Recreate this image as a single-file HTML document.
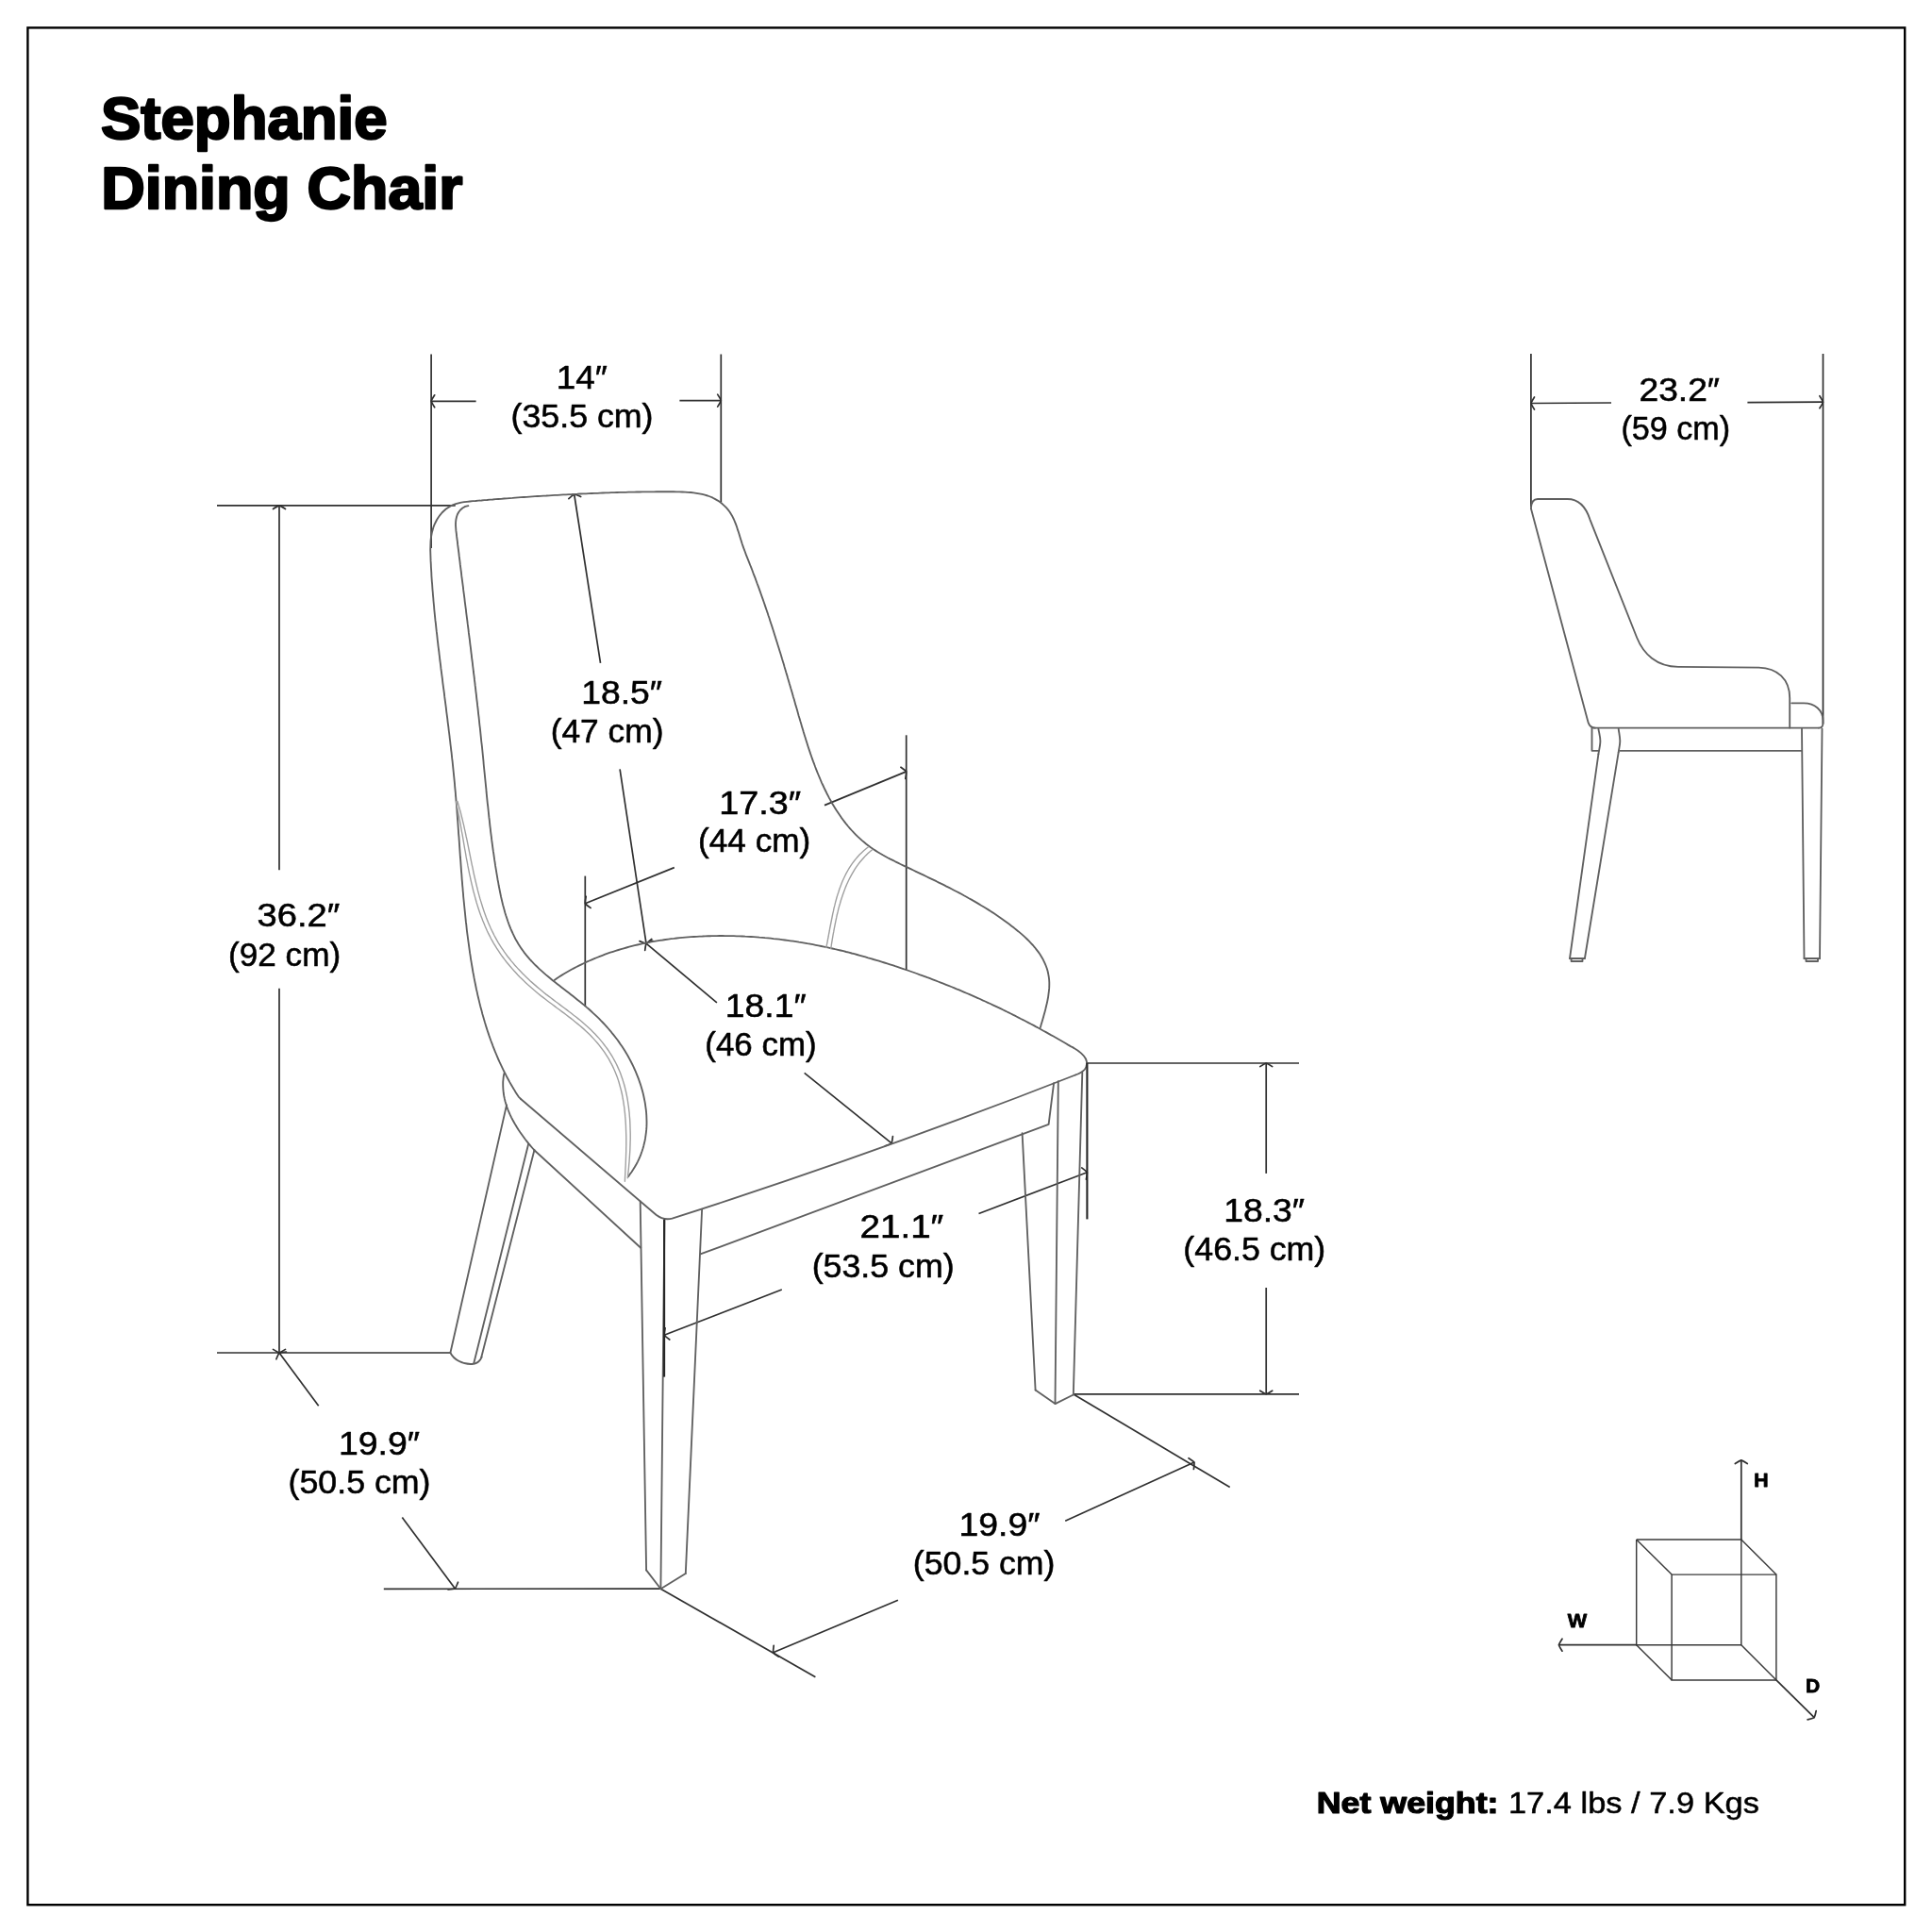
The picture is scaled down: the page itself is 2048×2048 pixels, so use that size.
<!DOCTYPE html>
<html><head><meta charset="utf-8"><style>
html,body{margin:0;padding:0;background:#fff;}
body{width:2048px;height:2048px;overflow:hidden;}
svg{display:block;will-change:transform;}
.c{fill:none;stroke:#606060;stroke-width:1.85;stroke-linecap:round;stroke-linejoin:round;}
.p{fill:none;stroke:#a0a0a0;stroke-width:1.4;stroke-linecap:round;}
.d{fill:none;stroke:#303030;stroke-width:1.7;stroke-linecap:butt;}
.q{fill:none;stroke:#3a3a3a;stroke-width:1.45;stroke-linecap:butt;}
.k{fill:none;stroke:#262626;stroke-width:2.1;stroke-linecap:butt;}
.ah{stroke-linecap:round;stroke-linejoin:round;}
text{font-family:"Liberation Sans",sans-serif;fill:#000;}
.b{font-weight:bold;}
</style></head><body>
<svg width="2048" height="2048" viewBox="0 0 2048 2048">
<rect x="29.4" y="29.4" width="1989.8" height="1989.8" fill="none" stroke="#000" stroke-width="2.4"/>
<line class="d" x1="457.1" y1="375.5" x2="457.1" y2="580.9"/>
<line class="d" x1="764.3" y1="375.5" x2="764.3" y2="532.3"/>
<line class="d" x1="457.1" y1="425.3" x2="504.6" y2="425.3"/>
<path class="d ah" d="M460.7,418.8 Q457.8,423.4 457.1,425.3 Q457.8,427.2 460.7,431.8"/>
<line class="d" x1="720.4" y1="424.6" x2="764.3" y2="424.6"/>
<path class="d ah" d="M760.7,431.1 Q763.6,426.6 764.3,424.6 Q763.6,422.7 760.7,418.1"/>
<line class="d" x1="230.0" y1="535.9" x2="482.7" y2="535.9"/>
<line class="d" x1="230.0" y1="1434.0" x2="477.4" y2="1434.0"/>
<line class="d" x1="296.0" y1="535.9" x2="296.0" y2="922.2"/>
<path class="d ah" d="M302.5,539.5 Q297.9,536.6 296.0,535.9 Q294.1,536.6 289.5,539.5"/>
<line class="d" x1="296.0" y1="1047.8" x2="296.0" y2="1434.0"/>
<path class="d ah" d="M289.5,1430.4 Q294.1,1433.3 296.0,1434.0 Q297.9,1433.3 302.5,1430.4"/>
<line class="d" x1="608.7" y1="524.0" x2="636.5" y2="702.9"/>
<path class="d ah" d="M615.7,526.5 Q610.7,524.4 608.7,524.0 Q606.9,525.0 602.9,528.6"/>
<line class="d" x1="657.1" y1="815.3" x2="685.0" y2="1000.1"/>
<path class="d ah" d="M678.0,997.6 Q683.0,999.7 685.0,1000.1 Q686.8,999.1 690.8,995.5"/>
<line class="d" x1="960.7" y1="779.3" x2="960.7" y2="1028.5"/>
<line class="d" x1="620.3" y1="928.6" x2="620.3" y2="1067.0"/>
<line class="d" x1="874.0" y1="853.6" x2="960.7" y2="817.9"/>
<path class="d ah" d="M959.8,825.3 Q960.8,820.0 960.7,817.9 Q959.3,816.4 954.9,813.3"/>
<line class="d" x1="620.3" y1="957.8" x2="714.8" y2="919.6"/>
<path class="d ah" d="M621.2,950.4 Q620.2,955.7 620.3,957.8 Q621.7,959.3 626.1,962.4"/>
<line class="d" x1="685.0" y1="1000.1" x2="759.9" y2="1062.8"/>
<path class="d ah" d="M691.9,997.3 Q686.8,999.0 685.0,1000.1 Q684.3,1002.1 683.7,1007.4"/>
<line class="d" x1="852.7" y1="1137.4" x2="945.1" y2="1211.9"/>
<path class="d ah" d="M938.2,1214.7 Q943.3,1213.0 945.1,1211.9 Q945.8,1209.9 946.4,1204.6"/>
<line class="d" x1="1037.5" y1="1286.5" x2="1152.4" y2="1242.7"/>
<path class="d ah" d="M1151.4,1250.1 Q1152.4,1244.8 1152.4,1242.7 Q1151.0,1241.1 1146.7,1237.9"/>
<line class="d" x1="704.1" y1="1415.2" x2="828.8" y2="1367.0"/>
<path class="d ah" d="M705.1,1407.8 Q704.1,1413.1 704.1,1415.2 Q705.5,1416.8 709.8,1420.0"/>
<line class="d" x1="1152.4" y1="1127.0" x2="1377.0" y2="1127.0"/>
<line class="d" x1="1138.3" y1="1477.8" x2="1377.0" y2="1477.8"/>
<line class="d" x1="1342.2" y1="1127.0" x2="1342.2" y2="1243.9"/>
<path class="d ah" d="M1348.7,1130.6 Q1344.2,1127.7 1342.2,1127.0 Q1340.2,1127.7 1335.7,1130.6"/>
<line class="d" x1="1342.2" y1="1365.0" x2="1342.2" y2="1477.8"/>
<path class="d ah" d="M1335.7,1474.2 Q1340.2,1477.1 1342.2,1477.8 Q1344.2,1477.1 1348.7,1474.2"/>
<line class="d" x1="1138.8" y1="1478.5" x2="1303.7" y2="1576.5"/>
<line class="d" x1="700.4" y1="1684.2" x2="864.4" y2="1777.7"/>
<line class="d" x1="1129.2" y1="1612.3" x2="1266.0" y2="1550.1"/>
<path class="d ah" d="M1265.4,1557.5 Q1266.1,1552.2 1266.0,1550.1 Q1264.5,1548.6 1260.0,1545.7"/>
<line class="d" x1="819.6" y1="1751.8" x2="951.9" y2="1696.2"/>
<path class="d ah" d="M820.2,1744.4 Q819.5,1749.7 819.6,1751.8 Q821.1,1753.3 825.6,1756.2"/>
<line class="d" x1="406.8" y1="1684.3" x2="700.4" y2="1684.2"/>
<line class="d" x1="296.0" y1="1434.0" x2="337.7" y2="1490.3"/>
<path class="d ah" d="M303.4,1433.0 Q298.0,1433.4 296.0,1434.0 Q294.9,1435.7 292.9,1440.8"/>
<line class="d" x1="426.3" y1="1608.4" x2="482.4" y2="1684.0"/>
<path class="d ah" d="M475.0,1685.0 Q480.4,1684.6 482.4,1684.0 Q483.5,1682.3 485.5,1677.2"/>
<path class="c" d="M551.8,1164.7 L549.7,1162.6 L548.0,1160.0 L546.4,1157.5 L544.9,1154.9 L543.3,1152.3 L541.8,1149.7 L540.3,1147.1 L538.9,1144.5 L537.4,1141.8 L536.1,1139.2 L534.7,1136.5 L533.4,1133.8 L532.1,1131.1 L530.8,1128.4 L529.5,1125.7 L528.3,1123.0 L527.1,1120.2 L526.0,1117.5 L524.8,1114.7 L523.7,1111.9 L522.6,1109.1 L521.6,1106.3 L520.5,1103.5 L519.5,1100.7 L518.5,1097.9 L517.6,1095.1 L516.6,1092.2 L515.7,1089.4 L514.8,1086.5 L513.9,1083.6 L513.1,1080.8 L512.3,1077.9 L511.4,1075.0 L510.7,1072.1 L509.9,1069.2 L509.1,1066.3 L508.4,1063.4 L507.7,1060.4 L507.0,1057.5 L506.3,1054.6 L505.7,1051.6 L505.0,1048.7 L504.4,1045.8 L503.8,1042.8 L503.2,1039.9 L502.6,1036.9 L502.1,1033.9 L501.5,1031.0 L501.0,1028.0 L500.5,1025.0 L500.0,1022.1 L499.5,1019.1 L499.0,1016.1 L498.6,1013.1 L498.1,1010.2 L497.7,1007.2 L497.3,1004.2 L496.9,1001.2 L496.5,998.3 L496.1,995.3 L495.7,992.3 L495.3,989.3 L494.9,986.3 L494.6,983.3 L494.3,980.4 L493.9,977.4 L493.6,974.4 L493.3,971.4 L493.0,968.4 L492.7,965.4 L492.4,962.5 L492.1,959.5 L491.8,956.5 L491.5,953.5 L491.2,950.5 L491.0,947.5 L490.7,944.5 L490.5,941.5 L490.2,938.6 L490.0,935.6 L489.7,932.6 L489.5,929.6 L489.3,926.6 L489.0,923.6 L488.8,920.6 L488.6,917.6 L488.4,914.6 L488.2,911.6 L487.9,908.7 L487.7,905.7 L487.5,902.7 L487.3,899.7 L487.1,896.7 L486.9,893.7 L486.7,890.7 L486.5,887.7 L486.2,884.7 L486.0,881.7 L485.8,878.7 L485.6,875.7 L485.4,872.7 L485.2,869.8 L484.9,866.8 L484.7,863.8 L484.5,860.8 L484.3,857.8 L484.0,854.8 L483.8,851.8 L483.5,848.8 L483.3,845.8 L483.0,842.8 L482.8,839.8 L482.5,836.8 L482.2,833.8 L482.0,830.8 L481.7,827.9 L481.4,824.9 L481.1,821.9 L480.8,818.9 L480.5,815.9 L480.2,812.9 L479.9,809.9 L479.6,806.9 L479.2,803.9 L478.9,800.9 L478.6,797.9 L478.2,795.0 L477.9,792.0 L477.5,789.0 L477.2,786.0 L476.8,783.0 L476.5,780.0 L476.1,777.0 L475.7,774.0 L475.4,771.0 L475.0,768.1 L474.6,765.1 L474.3,762.1 L473.9,759.1 L473.5,756.1 L473.1,753.1 L472.8,750.1 L472.4,747.2 L472.0,744.2 L471.6,741.2 L471.2,738.2 L470.9,735.2 L470.5,732.2 L470.1,729.3 L469.7,726.3 L469.3,723.3 L469.0,720.3 L468.6,717.3 L468.2,714.4 L467.8,711.4 L467.4,708.4 L467.1,705.4 L466.7,702.4 L466.3,699.5 L466.0,696.5 L465.6,693.5 L465.3,690.5 L464.9,687.6 L464.5,684.6 L464.2,681.6 L463.8,678.6 L463.5,675.7 L463.2,672.7 L462.8,669.7 L462.5,666.8 L462.2,663.8 L461.9,660.8 L461.5,657.9 L461.2,654.9 L460.9,651.9 L460.6,648.9 L460.3,646.0 L460.1,643.0 L459.8,640.0 L459.5,637.0 L459.3,634.1 L459.0,631.1 L458.8,628.1 L458.5,625.1 L458.3,622.1 L458.1,619.1 L457.8,616.1 L457.6,613.1 L457.4,610.1 L457.3,607.1 L457.1,604.0 L456.9,601.0 L456.8,598.0 L456.6,594.9 L456.5,591.9 L456.4,588.8 L456.3,585.8 L456.2,582.7 L456.3,579.7 L456.4,576.7 L456.5,573.7 L456.8,570.7 L457.3,567.7 L457.8,564.8 L458.6,561.9 L459.4,559.0 L460.5,556.2 L461.8,553.5 L463.2,550.8 L464.8,548.2 L466.6,545.8 L468.5,543.5 L470.6,541.5 L472.8,539.5 L475.2,537.9 L477.7,536.4 L480.4,535.2 L483.2,534.2 L486.0,533.4 L489.0,532.7 L492.0,532.2 L495.0,531.8 L498.1,531.5 L501.1,531.2 L504.2,531.0 L507.2,530.7 L510.3,530.5 L513.3,530.2 L516.3,530.0 L519.3,529.7 L522.3,529.5 L525.3,529.2 L528.3,529.0 L531.3,528.8 L534.2,528.5 L537.2,528.3 L540.2,528.1 L543.2,527.9 L546.1,527.6 L549.1,527.4 L552.1,527.2 L555.1,527.0 L558.1,526.8 L561.1,526.6 L564.1,526.4 L567.1,526.2 L570.0,526.0 L573.0,525.8 L576.0,525.6 L579.0,525.5 L582.0,525.3 L585.0,525.1 L588.0,524.9 L591.0,524.8 L594.0,524.6 L597.0,524.4 L600.0,524.3 L603.0,524.1 L606.0,524.0 L609.1,523.8 L612.1,523.7 L615.1,523.5 L618.1,523.4 L621.1,523.3 L624.1,523.1 L627.1,523.0 L630.1,522.9 L633.1,522.8 L636.1,522.6 L639.1,522.5 L642.1,522.4 L645.1,522.3 L648.1,522.2 L651.1,522.1 L654.1,522.0 L657.1,521.9 L660.1,521.9 L663.2,521.8 L666.2,521.7 L669.2,521.6 L672.2,521.6 L675.1,521.5 L678.1,521.5 L681.1,521.4 L684.1,521.4 L687.1,521.3 L690.1,521.3 L693.1,521.3 L696.1,521.2 L699.1,521.2 L702.1,521.2 L705.0,521.2 L708.0,521.2 L711.0,521.2 L714.0,521.2 L717.0,521.3 L720.1,521.4 L723.1,521.5 L726.2,521.6 L729.2,521.8 L732.3,522.0 L735.3,522.4 L738.3,522.8 L741.3,523.3 L744.3,523.9 L747.2,524.6 L750.1,525.5 L752.9,526.5 L755.6,527.7 L758.2,529.1 L760.8,530.6 L763.3,532.3 L765.6,534.1 L767.8,536.1 L769.9,538.2 L771.8,540.4 L773.6,542.8 L775.1,545.3 L776.6,547.8 L777.9,550.5 L779.1,553.3 L780.2,556.1 L781.2,559.0 L782.1,561.9 L783.1,564.8 L784.0,567.7 L784.9,570.7 L785.8,573.6 L786.7,576.5 L787.7,579.4 L788.7,582.2 L789.8,585.0 L790.8,587.9 L791.9,590.6 L793.0,593.4 L794.1,596.2 L795.2,599.0 L796.3,601.7 L797.4,604.5 L798.4,607.3 L799.5,610.1 L800.6,612.9 L801.6,615.7 L802.6,618.5 L803.7,621.3 L804.7,624.1 L805.7,626.9 L806.7,629.8 L807.7,632.6 L808.7,635.4 L809.7,638.2 L810.7,641.1 L811.6,643.9 L812.6,646.8 L813.6,649.6 L814.5,652.5 L815.5,655.3 L816.4,658.2 L817.3,661.0 L818.3,663.9 L819.2,666.7 L820.1,669.6 L821.0,672.5 L821.9,675.3 L822.8,678.2 L823.7,681.1 L824.6,684.0 L825.5,686.8 L826.4,689.7 L827.3,692.6 L828.2,695.5 L829.0,698.3 L829.9,701.2 L830.8,704.1 L831.6,707.0 L832.5,709.9 L833.3,712.8 L834.2,715.6 L835.0,718.5 L835.9,721.4 L836.7,724.3 L837.6,727.2 L838.4,730.1 L839.3,733.0 L840.1,735.8 L840.9,738.7 L841.8,741.6 L842.6,744.5 L843.4,747.4 L844.3,750.2 L845.1,753.1 L845.9,756.0 L846.7,758.9 L847.6,761.8 L848.4,764.6 L849.3,767.5 L850.1,770.4 L851.0,773.2 L851.8,776.1 L852.7,779.0 L853.6,781.8 L854.5,784.7 L855.4,787.5 L856.3,790.4 L857.2,793.2 L858.2,796.1 L859.1,798.9 L860.1,801.7 L861.1,804.6 L862.1,807.4 L863.2,810.2 L864.2,813.0 L865.3,815.8 L866.4,818.7 L867.6,821.5 L868.7,824.2 L869.9,827.0 L871.1,829.8 L872.4,832.5 L873.7,835.3 L875.0,838.0 L876.3,840.7 L877.7,843.4 L879.1,846.1 L880.6,848.7 L882.0,851.4 L883.6,854.0 L885.1,856.5 L886.7,859.1 L888.4,861.6 L890.1,864.1 L891.8,866.6 L893.6,869.0 L895.4,871.4 L897.2,873.7 L899.1,876.0 L901.1,878.3 L903.1,880.5 L905.1,882.7 L907.2,884.8 L909.3,886.9 L911.5,888.9 L913.7,890.9 L916.0,892.8 L918.3,894.7 L920.6,896.5 L923.0,898.3 L925.5,900.0 L928.0,901.6 L930.5,903.2 L933.1,904.8 L935.7,906.3 L938.3,907.7 L941.0,909.2 L943.7,910.6 L946.4,911.9 L949.1,913.3 L951.8,914.6 L954.5,916.0 L957.3,917.3 L960.0,918.6 L962.7,919.9 L965.4,921.2 L968.2,922.5 L970.9,923.8 L973.6,925.1 L976.3,926.4 L979.1,927.7 L981.8,929.0 L984.5,930.3 L987.2,931.6 L989.9,932.9 L992.6,934.2 L995.3,935.6 L998.0,936.9 L1000.6,938.2 L1003.3,939.6 L1006.0,940.9 L1008.6,942.3 L1011.3,943.7 L1013.9,945.0 L1016.6,946.4 L1019.2,947.8 L1021.8,949.3 L1024.5,950.7 L1027.1,952.2 L1029.7,953.6 L1032.3,955.1 L1034.9,956.6 L1037.4,958.1 L1040.0,959.7 L1042.6,961.2 L1045.1,962.8 L1047.7,964.4 L1050.2,966.0 L1052.7,967.6 L1055.2,969.3 L1057.7,971.0 L1060.2,972.7 L1062.7,974.5 L1065.1,976.2 L1067.6,978.0 L1070.0,979.8 L1072.4,981.7 L1074.9,983.6 L1077.2,985.5 L1079.6,987.4 L1082.0,989.4 L1084.3,991.4 L1086.5,993.4 L1088.7,995.5 L1090.9,997.7 L1092.9,999.8 L1095.0,1002.0 L1096.9,1004.3 L1098.7,1006.6 L1100.5,1008.9 L1102.2,1011.3 L1103.7,1013.7 L1105.2,1016.2 L1106.5,1018.8 L1107.7,1021.4 L1108.8,1024.0 L1109.8,1026.7 L1110.6,1029.5 L1111.2,1032.3 L1111.7,1035.2 L1112.1,1038.2 L1112.3,1041.2 L1112.3,1044.3 L1112.2,1047.4 L1111.9,1050.5 L1111.5,1053.7 L1111.1,1056.8 L1110.5,1060.0 L1109.9,1063.1 L1109.1,1066.2 L1108.4,1069.3 L1107.6,1072.4 L1106.8,1075.3 L1106.0,1078.2 L1105.2,1081.0 L1104.4,1083.7 L1103.6,1086.3 L1102.9,1089.1"/>
<path class="c" d="M551.8,1164.7 L695.5,1287.8 Q703.5,1294 712.5,1291.6 Q926,1223.5 1140,1139.5"/>
<path class="c" d="M1140,1139.5 Q1147,1137 1150,1133.5 Q1153.5,1128 1151,1122.5 Q1148,1116.5 1137.6,1110.5"/>
<path class="c" d="M1137.6,1110.5 L1134.9,1109.1 L1132.3,1107.6 L1129.7,1106.0 L1127.1,1104.5 L1124.5,1103.0 L1121.9,1101.5 L1119.3,1100.0 L1116.7,1098.5 L1114.0,1097.1 L1111.4,1095.6 L1108.8,1094.1 L1106.1,1092.7 L1103.5,1091.2 L1100.9,1089.8 L1098.2,1088.4 L1095.6,1086.9 L1092.9,1085.5 L1090.2,1084.1 L1087.6,1082.7 L1084.9,1081.3 L1082.2,1080.0 L1079.5,1078.6 L1076.9,1077.2 L1074.2,1075.9 L1071.5,1074.5 L1068.8,1073.2 L1066.1,1071.8 L1063.4,1070.5 L1060.7,1069.2 L1058.0,1067.9 L1055.3,1066.6 L1052.5,1065.3 L1049.8,1064.0 L1047.1,1062.8 L1044.3,1061.5 L1041.6,1060.3 L1038.9,1059.0 L1036.1,1057.8 L1033.4,1056.6 L1030.6,1055.4 L1027.8,1054.2 L1025.1,1053.0 L1022.3,1051.8 L1019.5,1050.6 L1016.8,1049.4 L1014.0,1048.3 L1011.2,1047.1 L1008.4,1046.0 L1005.6,1044.9 L1002.8,1043.8 L1000.0,1042.7 L997.2,1041.6 L994.4,1040.5 L991.6,1039.4 L988.8,1038.3 L985.9,1037.2 L983.1,1036.2 L980.3,1035.1 L977.5,1034.1 L974.6,1033.1 L971.8,1032.0 L969.0,1031.0 L966.1,1030.0 L963.3,1029.0 L960.4,1028.0 L957.6,1027.1 L954.7,1026.1 L951.9,1025.1 L949.0,1024.2 L946.1,1023.2 L943.3,1022.3 L940.4,1021.4 L937.5,1020.5 L934.7,1019.6 L931.8,1018.7 L928.9,1017.8 L926.0,1017.0 L923.1,1016.1 L920.2,1015.3 L917.3,1014.4 L914.4,1013.6 L911.5,1012.8 L908.6,1012.0 L905.7,1011.2 L902.8,1010.5 L899.9,1009.7 L897.0,1009.0 L894.1,1008.2 L891.1,1007.5 L888.2,1006.8 L885.3,1006.2 L882.3,1005.5 L879.4,1004.8 L876.5,1004.2 L873.5,1003.6 L870.6,1003.0 L867.6,1002.4 L864.7,1001.8 L861.7,1001.2 L858.8,1000.7 L855.8,1000.2 L852.8,999.6 L849.9,999.1 L846.9,998.7 L843.9,998.2 L840.9,997.7 L837.9,997.3 L835.0,996.9 L832.0,996.5 L829.0,996.1 L826.0,995.7 L823.0,995.4 L820.0,995.1 L817.0,994.7 L814.0,994.4 L811.0,994.2 L808.0,993.9 L805.0,993.7 L802.0,993.4 L799.0,993.2 L796.0,993.0 L793.0,992.8 L789.9,992.7 L786.9,992.5 L783.9,992.4 L780.9,992.3 L777.9,992.2 L774.8,992.1 L771.8,992.1 L768.8,992.1 L765.8,992.0 L762.7,992.0 L759.7,992.1 L756.7,992.1 L753.6,992.2 L750.6,992.2 L747.6,992.3 L744.6,992.5 L741.5,992.6 L738.5,992.8 L735.5,993.0 L732.5,993.2 L729.4,993.4 L726.4,993.6 L723.4,993.9 L720.4,994.2 L717.4,994.5 L714.4,994.9 L711.4,995.2 L708.4,995.6 L705.4,996.0 L702.4,996.5 L699.4,996.9 L696.4,997.4 L693.5,997.9 L690.5,998.4 L687.5,999.0 L684.6,999.6 L681.6,1000.2 L678.7,1000.8 L675.8,1001.5 L672.8,1002.2 L669.9,1002.9 L667.0,1003.7 L664.1,1004.5 L661.2,1005.3 L658.3,1006.1 L655.5,1007.0 L652.6,1007.9 L649.8,1008.8 L646.9,1009.7 L644.1,1010.7 L641.3,1011.7 L638.5,1012.8 L635.7,1013.9 L632.9,1015.0 L630.1,1016.1 L627.3,1017.3 L624.6,1018.5 L621.9,1019.7 L619.1,1021.0 L616.4,1022.3 L613.7,1023.6 L611.0,1025.0 L608.4,1026.4 L605.7,1027.8 L603.1,1029.3 L600.5,1030.8 L597.9,1032.3 L595.3,1033.9 L592.7,1035.5 L590.1,1037.2 L587.7,1039.0"/>
<path class="c" d="M496.4,536.1 L493.2,536.9 L490.4,538.5 L488.1,540.5 L486.3,542.8 L484.9,545.3 L484.0,548.0 L483.4,550.7 L483.1,553.5 L483.0,556.4 L483.2,559.4 L483.4,562.4 L483.8,565.4 L484.1,568.4 L484.5,571.4 L484.9,574.4 L485.2,577.4 L485.6,580.4 L486.0,583.4 L486.4,586.4 L486.7,589.4 L487.1,592.4 L487.5,595.4 L487.8,598.4 L488.2,601.4 L488.6,604.4 L489.0,607.4 L489.3,610.4 L489.7,613.4 L490.1,616.4 L490.5,619.4 L490.9,622.4 L491.2,625.4 L491.6,628.3 L492.0,631.3 L492.4,634.3 L492.7,637.3 L493.1,640.3 L493.5,643.3 L493.9,646.3 L494.2,649.3 L494.6,652.3 L495.0,655.3 L495.4,658.3 L495.7,661.2 L496.1,664.2 L496.5,667.2 L496.8,670.2 L497.2,673.2 L497.6,676.2 L498.0,679.2 L498.3,682.1 L498.7,685.1 L499.1,688.1 L499.4,691.1 L499.8,694.1 L500.1,697.1 L500.5,700.0 L500.9,703.0 L501.2,706.0 L501.6,709.0 L501.9,712.0 L502.3,714.9 L502.7,717.9 L503.0,720.9 L503.4,723.9 L503.7,726.9 L504.1,729.8 L504.4,732.8 L504.8,735.8 L505.1,738.8 L505.4,741.7 L505.8,744.7 L506.1,747.7 L506.5,750.7 L506.8,753.6 L507.1,756.6 L507.5,759.6 L507.8,762.5 L508.1,765.5 L508.4,768.5 L508.8,771.5 L509.1,774.4 L509.4,777.4 L509.7,780.4 L510.0,783.3 L510.3,786.3 L510.7,789.3 L511.0,792.2 L511.3,795.2 L511.6,798.2 L511.9,801.1 L512.2,804.1 L512.5,807.1 L512.7,810.0 L513.0,813.0 L513.3,816.0 L513.6,818.9 L513.9,821.9 L514.2,824.9 L514.5,827.8 L514.8,830.8 L515.1,833.8 L515.4,836.7 L515.6,839.7 L515.9,842.6 L516.2,845.6 L516.5,848.6 L516.8,851.6 L517.2,854.5 L517.5,857.5 L517.8,860.5 L518.1,863.4 L518.4,866.4 L518.8,869.4 L519.1,872.4 L519.4,875.3 L519.8,878.3 L520.1,881.3 L520.5,884.3 L520.9,887.3 L521.2,890.2 L521.6,893.2 L522.0,896.2 L522.4,899.2 L522.8,902.2 L523.3,905.2 L523.7,908.2 L524.1,911.2 L524.6,914.2 L525.0,917.2 L525.5,920.2 L526.0,923.2 L526.5,926.2 L527.0,929.2 L527.5,932.2 L528.1,935.2 L528.6,938.3 L529.2,941.3 L529.8,944.3 L530.4,947.3 L531.0,950.3 L531.7,953.3 L532.4,956.2 L533.1,959.2 L533.9,962.1 L534.7,965.0 L535.5,967.9 L536.4,970.8 L537.4,973.7 L538.3,976.5 L539.3,979.3 L540.4,982.1 L541.5,984.8 L542.7,987.5 L543.9,990.2 L545.2,992.9 L546.5,995.5 L548.0,998.0 L549.4,1000.5 L551.0,1003.0 L552.6,1005.4 L554.3,1007.8 L556.0,1010.1 L557.8,1012.4 L559.7,1014.7 L561.6,1016.9 L563.6,1019.0 L565.6,1021.2 L567.7,1023.3 L569.9,1025.3 L572.0,1027.4 L574.3,1029.4 L576.5,1031.4 L578.8,1033.4 L581.1,1035.3 L583.5,1037.2 L585.8,1039.2 L588.2,1041.1 L590.6,1042.9 L593.0,1044.8 L595.4,1046.7 L597.8,1048.6 L600.3,1050.4 L602.7,1052.3 L605.1,1054.2 L607.5,1056.1 L609.9,1058.0 L612.3,1059.9 L614.7,1061.8 L617.1,1063.7 L619.4,1065.6 L621.7,1067.6 L624.0,1069.5 L626.2,1071.5 L628.4,1073.6 L630.6,1075.6 L632.8,1077.7 L634.9,1079.7 L637.0,1081.9 L639.1,1084.0 L641.1,1086.1 L643.1,1088.3 L645.0,1090.5 L647.0,1092.8 L648.8,1095.1 L650.7,1097.4 L652.5,1099.7 L654.3,1102.0 L656.0,1104.4 L657.7,1106.9 L659.4,1109.3 L661.0,1111.8 L662.6,1114.3 L664.2,1116.9 L665.7,1119.5 L667.1,1122.1 L668.5,1124.8 L669.9,1127.5 L671.2,1130.2 L672.5,1133.0 L673.7,1135.7 L674.9,1138.6 L676.0,1141.4 L677.1,1144.2 L678.1,1147.1 L679.1,1150.0 L680.0,1152.9 L680.8,1155.8 L681.6,1158.8 L682.3,1161.7 L682.9,1164.7 L683.5,1167.6 L684.0,1170.6 L684.4,1173.6 L684.8,1176.6 L685.1,1179.5 L685.3,1182.5 L685.4,1185.5 L685.5,1188.5 L685.5,1191.5 L685.4,1194.4 L685.2,1197.4 L684.9,1200.3 L684.5,1203.3 L684.1,1206.2 L683.6,1209.1 L682.9,1212.0 L682.2,1214.9 L681.4,1217.7 L680.5,1220.5 L679.5,1223.3 L678.4,1226.1 L677.2,1228.9 L675.9,1231.6 L674.5,1234.3 L672.9,1237.0 L671.3,1239.6 L669.6,1242.2 L667.7,1244.7 L666.1,1247.2"/>
<path class="c" d="M534.4,1137.9 L533.8,1140.9 L533.5,1143.9 L533.2,1147.0 L533.2,1150.0 L533.3,1153.0 L533.5,1156.0 L533.8,1159.0 L534.3,1162.0 L534.9,1164.9 L535.6,1167.8 L536.5,1170.7 L537.4,1173.5 L538.4,1176.3 L539.6,1179.1 L540.8,1181.9 L542.1,1184.6 L543.5,1187.3 L545.0,1190.0 L546.5,1192.6 L548.1,1195.2 L549.7,1197.8 L551.4,1200.3 L553.2,1202.8 L555.0,1205.3 L556.8,1207.7 L558.7,1210.1 L560.5,1212.4 L562.4,1214.7 L564.4,1217.0 L566.4,1219.2"/>
<line class="c" x1="566.4" y1="1219.2" x2="679.2" y2="1322.7"/>
<line class="c" x1="537.0" y1="1171.4" x2="477.4" y2="1434.0"/>
<line class="c" x1="560.2" y1="1212.5" x2="502.3" y2="1445.0"/>
<line class="c" x1="566.4" y1="1219.2" x2="510.2" y2="1439.0"/>
<path class="c" d="M477.4,1434 C481,1441 490,1446.5 500.3,1446 C505,1445.6 509,1442.5 510.6,1438.6"/>
<line class="c" x1="678.7" y1="1273.5" x2="685.1" y2="1664.4"/>
<line class="c" x1="704.4" y1="1293.4" x2="700.4" y2="1684.2"/>
<line class="c" x1="744.1" y1="1282.5" x2="726.8" y2="1668.0"/>
<path class="c" d="M685.1,1664.4 L700.4,1684.2 L726.8,1668.0"/>
<path class="c" d="M1117.1,1148.1 L1111.6,1191.9 L743.1,1329.2"/>
<line class="c" x1="1083.6" y1="1201.2" x2="1097.6" y2="1473.5"/>
<line class="c" x1="1121.8" y1="1146.2" x2="1118.5" y2="1488.1"/>
<line class="c" x1="1147.3" y1="1136.6" x2="1137.8" y2="1478.5"/>
<path class="c" d="M1097.6,1473.5 L1118.5,1488.1 L1137.8,1478.5"/>
<path class="p" d="M483.5,849.7 L484.0,852.7 L484.6,855.6 L485.2,858.4 L485.8,861.3 L486.4,864.2 L486.9,867.1 L487.4,870.0 L488.0,872.9 L488.5,875.9 L489.0,878.8 L489.5,881.8 L490.1,884.7 L490.6,887.7 L491.1,890.7 L491.6,893.7 L492.1,896.7 L492.6,899.6 L493.2,902.6 L493.7,905.7 L494.2,908.7 L494.8,911.7 L495.4,914.7 L495.9,917.7 L496.5,920.7 L497.1,923.7 L497.7,926.7 L498.4,929.6 L499.0,932.6 L499.7,935.6 L500.4,938.6 L501.1,941.5 L501.8,944.5 L502.6,947.4 L503.4,950.4 L504.2,953.3 L505.0,956.2 L505.9,959.1 L506.8,962.0 L507.7,964.8 L508.7,967.7 L509.7,970.5 L510.8,973.3 L511.8,976.1 L513.0,978.8 L514.1,981.6 L515.3,984.3 L516.5,987.0 L517.8,989.7 L519.2,992.3 L520.5,995.0 L522.0,997.6 L523.4,1000.1 L525.0,1002.7 L526.5,1005.2 L528.2,1007.7 L529.8,1010.1 L531.5,1012.6 L533.3,1015.0 L535.1,1017.4 L536.9,1019.7 L538.8,1022.0 L540.7,1024.3 L542.7,1026.6 L544.6,1028.8 L546.7,1031.0 L548.7,1033.2 L550.8,1035.4 L553.0,1037.5 L555.1,1039.6 L557.3,1041.7 L559.5,1043.8 L561.8,1045.8 L564.1,1047.8 L566.4,1049.8 L568.7,1051.7 L571.1,1053.7 L573.4,1055.6 L575.8,1057.4 L578.2,1059.3 L580.7,1061.2 L583.1,1063.0 L585.5,1064.8 L588.0,1066.6 L590.4,1068.5 L592.9,1070.3 L595.3,1072.1 L597.8,1073.9 L600.2,1075.7 L602.6,1077.6 L605.0,1079.4 L607.4,1081.3 L609.7,1083.2 L612.1,1085.1 L614.4,1087.0 L616.6,1088.9 L618.9,1090.9 L621.1,1092.9 L623.3,1095.0 L625.4,1097.1 L627.5,1099.2 L629.5,1101.4 L631.5,1103.6 L633.4,1105.8 L635.3,1108.1 L637.1,1110.5 L638.9,1112.8 L640.6,1115.2 L642.2,1117.7 L643.8,1120.2 L645.4,1122.7 L646.8,1125.3 L648.2,1127.9 L649.6,1130.6 L650.8,1133.3 L652.0,1136.0 L653.1,1138.8 L654.2,1141.6 L655.2,1144.4 L656.1,1147.3 L656.9,1150.2 L657.7,1153.1 L658.5,1156.0 L659.2,1159.0 L659.8,1162.0 L660.3,1165.0 L660.9,1168.1 L661.3,1171.1 L661.8,1174.2 L662.1,1177.3 L662.5,1180.3 L662.7,1183.4 L663.0,1186.5 L663.2,1189.6 L663.4,1192.7 L663.5,1195.9 L663.6,1199.0 L663.7,1202.1 L663.8,1205.2 L663.8,1208.2 L663.8,1211.3 L663.8,1214.4 L663.7,1217.4 L663.7,1220.5 L663.6,1223.5 L663.5,1226.5 L663.4,1229.4 L663.3,1232.4 L663.2,1235.3 L663.0,1238.2 L662.9,1241.1 L662.8,1243.9 L662.6,1246.7 L662.5,1249.5 L662.4,1252.2"/>
<path class="p" d="M485.0,849.4 L485.8,852.4 L486.6,855.2 L487.4,858.0 L488.2,860.8 L488.9,863.7 L489.6,866.5 L490.3,869.4 L491.0,872.3 L491.7,875.2 L492.3,878.1 L493.0,881.1 L493.6,884.0 L494.2,887.0 L494.9,889.9 L495.5,892.9 L496.1,895.9 L496.7,898.9 L497.3,901.8 L497.9,904.8 L498.5,907.8 L499.1,910.8 L499.7,913.8 L500.3,916.8 L501.0,919.8 L501.6,922.8 L502.2,925.8 L502.9,928.8 L503.6,931.8 L504.3,934.8 L505.0,937.8 L505.7,940.7 L506.4,943.7 L507.2,946.6 L508.0,949.6 L508.8,952.5 L509.7,955.4 L510.6,958.3 L511.5,961.2 L512.4,964.0 L513.4,966.9 L514.4,969.7 L515.4,972.5 L516.5,975.3 L517.6,978.1 L518.8,980.8 L520.0,983.5 L521.3,986.2 L522.6,988.9 L523.9,991.5 L525.3,994.1 L526.7,996.7 L528.2,999.3 L529.8,1001.8 L531.4,1004.3 L533.0,1006.7 L534.7,1009.2 L536.5,1011.6 L538.2,1014.0 L540.1,1016.3 L541.9,1018.6 L543.9,1020.9 L545.8,1023.2 L547.8,1025.4 L549.8,1027.6 L551.9,1029.8 L554.0,1032.0 L556.1,1034.1 L558.3,1036.2 L560.5,1038.3 L562.7,1040.4 L565.0,1042.4 L567.3,1044.4 L569.6,1046.4 L571.9,1048.3 L574.3,1050.3 L576.6,1052.2 L579.0,1054.1 L581.4,1055.9 L583.9,1057.8 L586.3,1059.6 L588.7,1061.5 L591.2,1063.3 L593.6,1065.1 L596.1,1067.0 L598.5,1068.8 L601.0,1070.6 L603.4,1072.5 L605.8,1074.3 L608.2,1076.2 L610.6,1078.0 L612.9,1079.9 L615.3,1081.8 L617.6,1083.8 L619.8,1085.7 L622.1,1087.7 L624.3,1089.7 L626.5,1091.8 L628.6,1093.9 L630.7,1096.0 L632.7,1098.2 L634.7,1100.4 L636.6,1102.6 L638.5,1104.9 L640.3,1107.2 L642.1,1109.6 L643.9,1112.0 L645.5,1114.4 L647.1,1116.9 L648.7,1119.4 L650.2,1122.0 L651.6,1124.6 L653.0,1127.2 L654.3,1129.9 L655.5,1132.6 L656.7,1135.3 L657.8,1138.1 L658.8,1140.9 L659.8,1143.8 L660.7,1146.6 L661.6,1149.5 L662.4,1152.5 L663.1,1155.4 L663.8,1158.4 L664.4,1161.4 L665.0,1164.4 L665.5,1167.5 L665.9,1170.5 L666.4,1173.6 L666.7,1176.6 L667.1,1179.7 L667.3,1182.8 L667.6,1185.9 L667.8,1189.0 L667.9,1192.1 L668.0,1195.2 L668.1,1198.3 L668.2,1201.4 L668.2,1204.5 L668.2,1207.6 L668.1,1210.6 L668.0,1213.7 L667.9,1216.7 L667.8,1219.8 L667.6,1222.8 L667.4,1225.8 L667.2,1228.7 L667.0,1231.7 L666.7,1234.6 L666.5,1237.5 L666.2,1240.3 L665.9,1243.2 L665.6,1246.0 L665.3,1248.7"/>
<path class="p" d="M920.5,897.8 L918.0,899.7 L915.6,901.8 L913.3,903.9 L911.1,906.1 L909.1,908.3 L907.1,910.6 L905.2,913.0 L903.4,915.4 L901.7,917.9 L900.1,920.4 L898.6,923.0 L897.1,925.6 L895.8,928.3 L894.5,931.0 L893.2,933.8 L892.1,936.6 L891.0,939.4 L889.9,942.3 L889.0,945.2 L888.0,948.1 L887.1,951.0 L886.3,954.0 L885.5,956.9 L884.8,959.9 L884.0,962.9 L883.4,965.9 L882.7,968.9 L882.1,972.0 L881.5,975.0 L880.9,978.0 L880.3,981.0 L879.7,984.0 L879.2,987.0 L878.6,990.0 L878.1,993.0 L877.5,995.9 L877.0,998.8 L876.4,1001.7 L875.8,1004.6"/>
<path class="p" d="M924.6,900.7 L922.2,902.7 L919.9,904.8 L917.7,906.9 L915.6,909.2 L913.6,911.5 L911.6,913.8 L909.8,916.2 L908.0,918.7 L906.3,921.2 L904.7,923.8 L903.2,926.4 L901.7,929.1 L900.3,931.8 L899.0,934.5 L897.7,937.3 L896.5,940.1 L895.4,943.0 L894.3,945.9 L893.3,948.8 L892.3,951.7 L891.3,954.7 L890.5,957.7 L889.6,960.6 L888.8,963.7 L888.1,966.7 L887.3,969.7 L886.7,972.7 L886.0,975.8 L885.4,978.8 L884.8,981.8 L884.2,984.8 L883.7,987.9 L883.1,990.9 L882.6,993.8 L882.1,996.8 L881.6,999.8 L881.2,1002.7 L880.7,1005.6"/>
<line class="d" x1="1622.9" y1="374.9" x2="1622.9" y2="536.9"/>
<line class="d" x1="1932.5" y1="374.9" x2="1932.5" y2="767.6"/>
<line class="d" x1="1622.9" y1="427.5" x2="1708.0" y2="427.0"/>
<path class="d ah" d="M1626.5,421.0 Q1623.6,425.5 1622.9,427.5 Q1623.6,429.4 1626.5,434.0"/>
<line class="d" x1="1852.4" y1="426.6" x2="1932.5" y2="426.2"/>
<path class="d ah" d="M1928.9,432.7 Q1931.8,428.2 1932.5,426.2 Q1931.8,424.3 1928.9,419.7"/>
<path class="c" d="M1622.9,538.5 Q1623.5,529 1630,529 L1661.6,529 C1673,529 1681,537 1685.5,550.8 L1735.2,676 C1742,693 1756,706.5 1778.9,706.9 L1864.4,707.6 C1884,708 1897.2,720 1897.2,740 L1897.2,771.6"/>
<path class="c" d="M1622.9,538.9 L1683.5,765.6 Q1685.5,771.6 1691,771.6"/>
<line class="c" x1="1689.4" y1="771.6" x2="1928.0" y2="771.6"/>
<path class="c" d="M1899.2,745.3 L1912,745.3 C1924,745.3 1932.4,753 1932.4,763.6 L1932.4,767 Q1932.4,771.6 1928,771.6"/>
<line class="c" x1="1717.3" y1="795.8" x2="1910.0" y2="795.8"/>
<path class="c" d="M1687.5,771.6 L1687.5,795.8 L1694.4,795.8"/>
<path class="c" d="M1694.4,772.6 C1695.1,776.9 1696.4,781.1 1696.4,785.5 C1696.4,790.0 1695.1,794.8 1694.4,799.4"/>
<line class="c" x1="1694.4" y1="799.4" x2="1664.0" y2="1016.0"/>
<path class="c" d="M1715.7,772.6 C1716.2,776.9 1717.3,781.3 1717.3,785.5 C1717.3,789.5 1716.2,793.4 1715.7,797.4"/>
<line class="c" x1="1715.7" y1="797.4" x2="1679.9" y2="1016.0"/>
<line class="c" x1="1664.0" y1="1016.0" x2="1679.9" y2="1016.0"/>
<path class="c" d="M1665.6,1016.0 L1665.6,1019.0 L1677.5,1019.0 L1677.5,1016.0"/>
<line class="c" x1="1910.0" y1="772.6" x2="1912.5" y2="1016.0"/>
<line class="c" x1="1931.5" y1="772.6" x2="1929.0" y2="1016.0"/>
<line class="c" x1="1912.5" y1="1016.0" x2="1929.0" y2="1016.0"/>
<path class="c" d="M1914.5,1016.0 L1914.5,1019.0 L1927.0,1019.0 L1927.0,1016.0"/>
<path class="q" d="M1734.7,1631.9 L1845.8,1631.9 L1845.8,1743.7 L1734.7,1743.7 L1734.7,1631.9"/>
<path class="q" d="M1772.1,1669.1 L1882.9,1669.1 L1882.9,1780.9 L1772.1,1780.9 L1772.1,1669.1"/>
<line class="q" x1="1734.7" y1="1631.9" x2="1772.1" y2="1669.1"/>
<line class="q" x1="1845.8" y1="1631.9" x2="1882.9" y2="1669.1"/>
<line class="q" x1="1734.7" y1="1743.7" x2="1772.1" y2="1780.9"/>
<line class="q" x1="1845.8" y1="1743.7" x2="1882.9" y2="1780.9"/>
<line class="d" x1="1845.8" y1="1631.9" x2="1845.8" y2="1547.9"/>
<path class="d ah" d="M1852.3,1551.5 Q1847.8,1548.6 1845.8,1547.9 Q1843.8,1548.6 1839.3,1551.5"/>
<line class="d" x1="1734.7" y1="1743.7" x2="1652.4" y2="1743.7"/>
<path class="d ah" d="M1656.0,1737.2 Q1653.1,1741.8 1652.4,1743.7 Q1653.1,1745.7 1656.0,1750.2"/>
<line class="d" x1="1882.9" y1="1780.9" x2="1923.2" y2="1820.7"/>
<path class="d ah" d="M1916.1,1822.8 Q1921.3,1821.6 1923.2,1820.7 Q1924.1,1818.8 1925.2,1813.5"/>
<line class="k" x1="1152.4" y1="1126.6" x2="1152.4" y2="1292.4"/>
<line class="k" x1="704.1" y1="1292.7" x2="704.1" y2="1459.6"/>
<text class="t b" x="106.97" y="147.40" font-size="62.50" textLength="303.60" lengthAdjust="spacingAndGlyphs" stroke="#000" stroke-width="2.40" stroke-linejoin="round">Stephanie</text>
<text class="t b" x="107.29" y="220.70" font-size="62.50" textLength="382.99" lengthAdjust="spacingAndGlyphs" stroke="#000" stroke-width="2.40" stroke-linejoin="round">Dining Chair</text>
<text class="t" x="589.87" y="412.43" font-size="34.52" textLength="54.04" lengthAdjust="spacingAndGlyphs" stroke="#000" stroke-width="0.55" stroke-linejoin="round">14″</text>
<text class="t" x="541.56" y="453.12" font-size="34.52" textLength="150.98" lengthAdjust="spacingAndGlyphs" stroke="#000" stroke-width="0.55" stroke-linejoin="round">(35.5 cm)</text>
<text class="t" x="616.23" y="745.83" font-size="34.52" textLength="85.78" lengthAdjust="spacingAndGlyphs" stroke="#000" stroke-width="0.55" stroke-linejoin="round">18.5″</text>
<text class="t" x="583.68" y="786.83" font-size="34.52" textLength="119.84" lengthAdjust="spacingAndGlyphs" stroke="#000" stroke-width="0.55" stroke-linejoin="round">(47 cm)</text>
<text class="t" x="762.30" y="863.02" font-size="34.52" textLength="86.83" lengthAdjust="spacingAndGlyphs" stroke="#000" stroke-width="0.55" stroke-linejoin="round">17.3″</text>
<text class="t" x="740.10" y="903.43" font-size="34.52" textLength="119.11" lengthAdjust="spacingAndGlyphs" stroke="#000" stroke-width="0.55" stroke-linejoin="round">(44 cm)</text>
<text class="t" x="272.52" y="982.02" font-size="34.52" textLength="87.71" lengthAdjust="spacingAndGlyphs" stroke="#000" stroke-width="0.55" stroke-linejoin="round">36.2″</text>
<text class="t" x="242.00" y="1023.73" font-size="34.52" textLength="119.11" lengthAdjust="spacingAndGlyphs" stroke="#000" stroke-width="0.55" stroke-linejoin="round">(92 cm)</text>
<text class="t" x="768.83" y="1077.62" font-size="34.52" textLength="85.78" lengthAdjust="spacingAndGlyphs" stroke="#000" stroke-width="0.55" stroke-linejoin="round">18.1″</text>
<text class="t" x="747.31" y="1118.72" font-size="34.52" textLength="118.28" lengthAdjust="spacingAndGlyphs" stroke="#000" stroke-width="0.55" stroke-linejoin="round">(46 cm)</text>
<text class="t" x="911.64" y="1312.42" font-size="34.52" textLength="88.60" lengthAdjust="spacingAndGlyphs" stroke="#000" stroke-width="0.55" stroke-linejoin="round">21.1″</text>
<text class="t" x="860.66" y="1353.72" font-size="34.52" textLength="150.98" lengthAdjust="spacingAndGlyphs" stroke="#000" stroke-width="0.55" stroke-linejoin="round">(53.5 cm)</text>
<text class="t" x="1297.23" y="1295.42" font-size="34.52" textLength="85.78" lengthAdjust="spacingAndGlyphs" stroke="#000" stroke-width="0.55" stroke-linejoin="round">18.3″</text>
<text class="t" x="1254.36" y="1335.72" font-size="34.52" textLength="150.88" lengthAdjust="spacingAndGlyphs" stroke="#000" stroke-width="0.55" stroke-linejoin="round">(46.5 cm)</text>
<text class="t" x="358.92" y="1542.12" font-size="34.52" textLength="86.10" lengthAdjust="spacingAndGlyphs" stroke="#000" stroke-width="0.55" stroke-linejoin="round">19.9″</text>
<text class="t" x="305.56" y="1582.82" font-size="34.52" textLength="150.98" lengthAdjust="spacingAndGlyphs" stroke="#000" stroke-width="0.55" stroke-linejoin="round">(50.5 cm)</text>
<text class="t" x="1016.53" y="1628.32" font-size="34.52" textLength="85.89" lengthAdjust="spacingAndGlyphs" stroke="#000" stroke-width="0.55" stroke-linejoin="round">19.9″</text>
<text class="t" x="967.86" y="1669.02" font-size="34.52" textLength="150.57" lengthAdjust="spacingAndGlyphs" stroke="#000" stroke-width="0.55" stroke-linejoin="round">(50.5 cm)</text>
<text class="t" x="1737.51" y="425.33" font-size="34.52" textLength="85.51" lengthAdjust="spacingAndGlyphs" stroke="#000" stroke-width="0.55" stroke-linejoin="round">23.2″</text>
<text class="t" x="1718.46" y="466.03" font-size="34.52" textLength="115.58" lengthAdjust="spacingAndGlyphs" stroke="#000" stroke-width="0.55" stroke-linejoin="round">(59 cm)</text>
<text class="t b" x="1859.18" y="1575.60" font-size="19.91" textLength="15.36" lengthAdjust="spacingAndGlyphs" stroke="#000" stroke-width="0.80" stroke-linejoin="round">H</text>
<text class="t b" x="1661.88" y="1725.00" font-size="20.20" textLength="20.44" lengthAdjust="spacingAndGlyphs" stroke="#000" stroke-width="0.80" stroke-linejoin="round">W</text>
<text class="t b" x="1914.09" y="1793.70" font-size="20.64" textLength="15.19" lengthAdjust="spacingAndGlyphs" stroke="#000" stroke-width="0.80" stroke-linejoin="round">D</text>
<text class="t b" x="1395.81" y="1922.10" font-size="31.10" textLength="192.73" lengthAdjust="spacingAndGlyphs" stroke="#000" stroke-width="1.20" stroke-linejoin="round">Net weight:</text>
<text class="t" x="1598.93" y="1922.45" font-size="32.12" textLength="266.07" lengthAdjust="spacingAndGlyphs" stroke="#000" stroke-width="0.50" stroke-linejoin="round">17.4 lbs / 7.9 Kgs</text>
</svg>
</body></html>
